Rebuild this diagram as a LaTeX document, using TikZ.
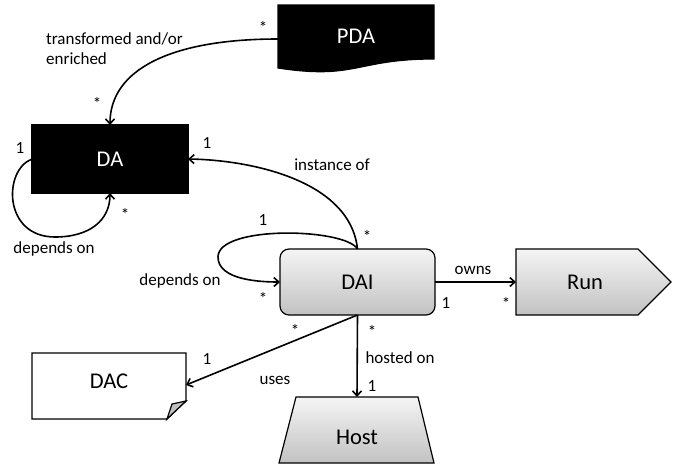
\documentclass[tikz,border=0pt]{standalone}
\usepackage{fontspec}
\setmainfont{Carlito}
\usetikzlibrary{arrows.meta,calc}
\begin{document}
\begin{tikzpicture}[x=1pt,y=-1pt,
  lbl/.style={font=\fontsize{17}{20}\selectfont, inner sep=0pt},
  starlbl/.style={lbl, yshift=-3pt},
  box/.style={inner sep=0pt, outer sep=0pt, font=\fontsize{22.5}{26}\selectfont},
  conn/.style={line width=1.6pt, -{Straight Barb[length=5pt,width=9pt]}},
  shp/.style={line width=1.2pt},
  grad/.style={top color=black!4, bottom color=black!24}]
\useasboundingbox (0,0) rectangle (678,469);

% PDA (document shape)
\path[shp, draw=black, fill=black] (278,5) -- (434,5) -- (434,59) .. controls (356,59) and (356,80) .. (278,68) -- cycle;
\node[box, text=white, minimum width=156pt, minimum height=62pt] (pda) at (356,36) {PDA};

% DA
\node[box, shp, draw, fill=black, text=white, minimum width=156pt, minimum height=68pt] (da) at (110,159) {DA};

% DAI
\node[box, shp, draw, grad, rounded corners=9pt, minimum width=155pt, minimum height=66pt] (dai) at (357.5,282) {DAI};

% Run
\path[shp, draw, grad] (516,249) -- (638,249) -- (671,282) -- (638,315) -- (516,315) -- cycle;
\node[box, minimum width=138pt, minimum height=66pt] (run) at (585,282) {Run};

% Host
\path[shp, draw, grad] (296,397) -- (418,397) -- (434,463) -- (279,463) -- cycle;
\node[box, minimum width=138pt, minimum height=80pt] (host) at (357,437) {Host};

% DAC
\path[shp, draw, fill=white] (32,353) -- (186,353) -- (186,401) -- (167,419) -- (32,419) -- cycle;
\path[shp, draw, fill=black!25] (186,401) -- (172,404) -- (167,419) -- cycle;
\node[box, minimum width=154pt, minimum height=56pt] (dac) at (109,381) {DAC};

% connectors
\draw[conn] ($(pda.west)+(0,3)$) .. controls (170,39) and (110,70) .. (da.north);
\draw[conn] (da.west) .. controls (3,170) and (3,237) .. (55,237) .. controls (90,237) and (110,220) .. (da.south);
\draw[conn] (dai.north) .. controls (350,180) and (250,160) .. (da.east);
\draw[conn] (dai.north) .. controls (345,228) and (218,225) .. (218,257) .. controls (218,280) and (260,282) .. (dai.west);
\draw[conn] (dai.east) -- (run.west);
\draw[conn] (dai.south) -- (host.north);
\draw[conn] (dai.south) -- ($(dac.east)+(0,4)$);

% labels
\node[lbl, anchor=west, align=left] (l1) at (46,49) {transformed and/or\\enriched};
\node[starlbl] (s1) at (263,24) {*};
\node[starlbl] (s2) at (97,100) {*};
\node[lbl] (n1) at (20,148) {1};
\node[starlbl] (s3) at (125,211) {*};
\node[lbl] (l2) at (54,249) {depends on};
\node[lbl] (n2) at (207,143) {1};
\node[lbl] (l3) at (332,165) {instance of};
\node[lbl] (n3) at (263,220) {1};
\node[starlbl] (s4) at (367,233) {*};
\node[lbl] (l4) at (180,281) {depends on};
\node[starlbl] (s5) at (263,295) {*};
\node[lbl] (l5) at (473,270) {owns};
\node[lbl] (n4) at (446,303) {1};
\node[starlbl] (s6) at (506,300) {*};
\node[starlbl] (s7) at (295,327) {*};
\node[starlbl] (s8) at (372,328) {*};
\node[lbl] (l6) at (400,358) {hosted on};
\node[lbl] (n5) at (372,386) {1};
\node[lbl] (n6) at (207,359) {1};
\node[lbl] (l7) at (275,380) {uses};
\end{tikzpicture}
\end{document}
